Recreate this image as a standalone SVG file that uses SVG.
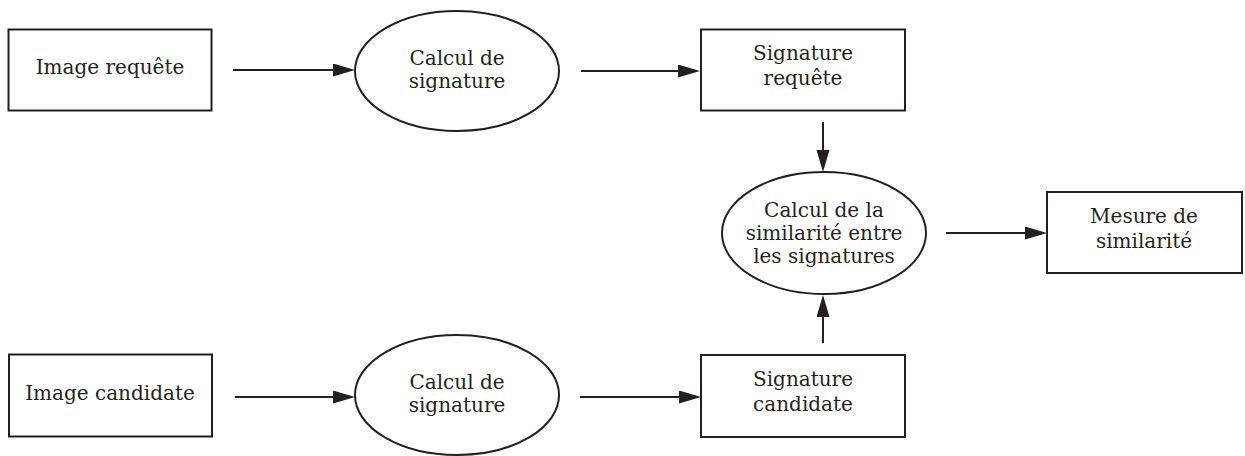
<svg xmlns="http://www.w3.org/2000/svg" width="1245" height="456" viewBox="0 0 1245 456">
<style>
.n rect, .n ellipse { fill: #ffffff; stroke: #231f20; stroke-width: 2; }
text { font-family: "DejaVu Serif", "Liberation Serif", serif; font-size: 20px; fill: #231f20; text-anchor: middle; }
.c line { stroke: #231f20; stroke-width: 2; marker-end: url(#ah); }
</style>
<defs>
<marker id="ah" markerUnits="userSpaceOnUse" markerWidth="24" markerHeight="14" refX="12" refY="6.5" orient="auto">
<path d="M0,0 L22,6.5 L0,13 Z" fill="#231f20"/>
</marker>
</defs>
<rect width="1245" height="456" fill="#ffffff"/>
<g class="c" id="connectors">
<line x1="233" y1="70" x2="345" y2="70"/>
<line x1="581" y1="71" x2="690" y2="71"/>
<line x1="823" y1="122" x2="823" y2="162"/>
<line x1="823" y1="343" x2="823" y2="305"/>
<line x1="946" y1="233" x2="1037" y2="233"/>
<line x1="235" y1="397" x2="345" y2="397"/>
<line x1="580" y1="397" x2="691" y2="397"/>
</g>
<g class="n" id="image-requete">
<rect x="8.5" y="29.5" width="203" height="81"/>
<text x="110" y="74">Image requête</text>
</g>
<g class="n" id="calcul-signature-1">
<ellipse cx="457" cy="71" rx="102" ry="60"/>
<text x="457" y="65">Calcul de</text>
<text x="457" y="88">signature</text>
</g>
<g class="n" id="signature-requete">
<rect x="701" y="29.5" width="204" height="81"/>
<text x="803" y="60">Signature</text>
<text x="803" y="85">requête</text>
</g>
<g class="n" id="calcul-similarite">
<ellipse cx="824" cy="233" rx="102" ry="61"/>
<text x="824" y="217">Calcul de la</text>
<text x="824" y="240">similarité entre</text>
<text x="824" y="263">les signatures</text>
</g>
<g class="n" id="mesure-similarite">
<rect x="1047" y="192" width="195" height="81"/>
<text x="1144" y="223">Mesure de</text>
<text x="1144" y="248">similarité</text>
</g>
<g class="n" id="image-candidate">
<rect x="9" y="354.5" width="203" height="82"/>
<text x="110" y="400">Image candidate</text>
</g>
<g class="n" id="calcul-signature-2">
<ellipse cx="457" cy="395" rx="102" ry="60"/>
<text x="457" y="389">Calcul de</text>
<text x="457" y="412">signature</text>
</g>
<g class="n" id="signature-candidate">
<rect x="701" y="355" width="204" height="82"/>
<text x="803" y="386">Signature</text>
<text x="803" y="411">candidate</text>
</g>
</svg>
